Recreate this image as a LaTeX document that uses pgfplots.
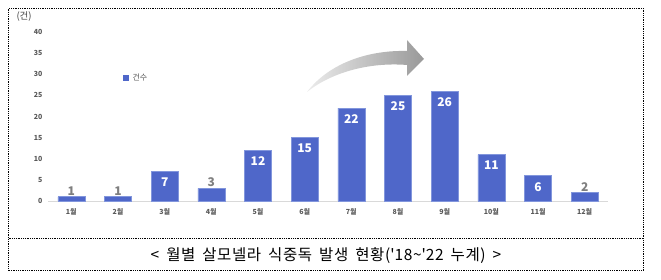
\documentclass[border=0pt]{standalone}
\usepackage{fontspec}
\setmainfont{Noto Sans CJK KR}
\newfontfamily\capfont[LetterSpace=4, WordSpace=1.7]{Noto Sans CJK KR}
\usepackage{pgfplots}
\pgfplotsset{compat=1.18}
\definecolor{barblue}{RGB}{79,103,201}
\definecolor{baredge}{RGB}{130,150,220}
\definecolor{tickgray}{RGB}{89,89,89}
\definecolor{lblgray}{RGB}{127,127,127}
\begin{document}
\begin{tikzpicture}[x=1pt,y=1pt]
\useasboundingbox (0,0) rectangle (661,280);
% frame
\draw[densely dotted, line width=0.8pt] (8.5,9.5) rectangle (643.5,271.5);
\draw[densely dotted, line width=0.8pt] (8.5,42) -- (643.5,42);
\node[font=\capfont\fontsize{15.5}{17}\selectfont, text=black] at (326,24) {<\ 월별 살모넬라 식중독 발생 현황(\textquotesingle 18\textasciitilde\textquotesingle 22 누계) >};
\begin{axis}[
  at={(48pt,79pt)}, anchor=south west,
  scale only axis, width=560pt, height=169pt,
  xmin=0.5, xmax=12.5, ymin=0, ymax=40,
  axis x line*=bottom, axis y line*=left,
  x axis line style={draw=gray!30, line width=0.8pt, -},
  y axis line style={draw=none},
  major tick length=0pt,
  xtick={1,...,12},
  xticklabels={1월,2월,3월,4월,5월,6월,7월,8월,9월,10월,11월,12월},
  ytick={0,5,...,40},
  /pgf/number format/assume math mode=true,
  ticklabel style={font=\fontsize{7}{8}\selectfont\bfseries, text=tickgray},
  yticklabel style={xshift=-2pt},
  xticklabel style={yshift=-4pt},
  clip=false,
]
\addplot[ybar, bar width=27pt, fill=barblue, draw=baredge, line width=0.6pt]
  coordinates {(1,1)(2,1)(3,7)(4,3)(5,12)(6,15)(7,22)(8,25)(9,26)(10,11)(11,6)(12,2)};
\addplot[draw=none, mark=none, nodes near coords,
  nodes near coords style={anchor=north, yshift=-3pt, text=white, font=\fontsize{12}{14}\selectfont\bfseries},
  point meta=y]
  coordinates {(3,7)(5,12)(6,15)(7,22)(8,25)(9,26)(10,11)(11,6)};
\addplot[draw=none, mark=none, nodes near coords,
  nodes near coords style={anchor=south, yshift=-2pt, text=lblgray, font=\fontsize{12}{14}\selectfont\bfseries},
  point meta=y]
  coordinates {(1,1)(2,1)(4,3)(12,2)};
\end{axis}
% unit label
\node[anchor=west, font=\fontsize{9.5}{11}\selectfont, text=black!75] at (13,263) {(건)};
% legend
\fill[barblue] (123,199) rectangle (129,205);
\node[anchor=west, font=\fontsize{8}{10}\selectfont, text=tickgray] at (129,202) {건수};
% arrow decoration
\begin{scope}[yshift=280pt, y=-1pt]
\shade[left color=gray!15, right color=gray!80]
  (307,92) .. controls (330,62) and (370,50) .. (407,51)
  -- (407,40) -- (424,59) -- (407,76) -- (407,65)
  .. controls (370,62) and (332,72) .. (307,92) -- cycle;
\end{scope}
\end{tikzpicture}
\end{document}
